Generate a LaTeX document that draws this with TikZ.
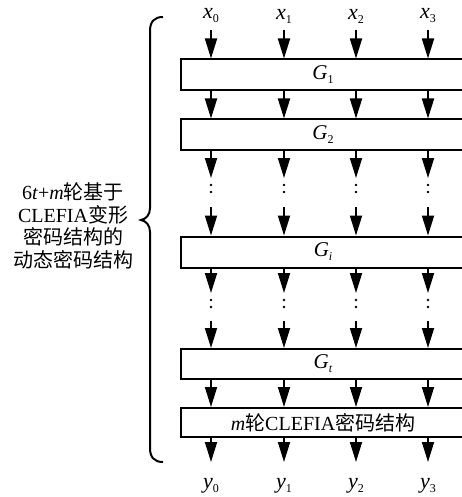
\documentclass[tikz,border=0pt]{standalone}
\usepackage{fontspec}
\setmainfont{Liberation Serif}
\newfontfamily\cjk{Noto Sans CJK SC}
\usetikzlibrary{arrows.meta}
\newcommand{\zh}[1]{{\cjk #1}}
\newcommand{\sbx}[1]{\raisebox{-4pt}{\fontsize{12}{12}\selectfont #1}}
\begin{document}
\begin{tikzpicture}[x=1pt,y=-1pt,
  blk/.style={draw, line width=2pt, minimum width=284pt, minimum height=31pt, inner sep=0pt, font=\fontsize{21}{22}\selectfont},
  arr/.style={line width=1.8pt, -{Triangle[length=20pt,width=12pt]}},
  dotsty/.style={line width=2.6pt, line cap=round, dash pattern=on 0pt off 7pt},
  lbl/.style={font=\fontsize{22}{24}\selectfont, inner sep=1pt},
  brace/.style={line width=2pt},
  side/.style={align=center, font=\fontsize{20}{22.5}\selectfont}
]
\useasboundingbox (0,0) rectangle (461,497);
% blocks
\node[blk] (G1) at (323,75) {\textit{G}\sbx{1}};
\node[blk] (G2) at (323,135) {\textit{G}\sbx{2}};
\node[blk] (Gi) at (323,252) {\textit{G}\sbx{\textit{i}}};
\node[blk,minimum height=30pt] (Gt) at (323,364) {\textit{G}\sbx{\textit{t}}};
\node[blk,minimum height=29pt,font=\fontsize{20}{22}\selectfont] (M) at (323,422.5) {\textit{m}\zh{轮}CLEFIA\zh{密码结构}};
% columns
\foreach \i/\x in {0/211,1/284,2/356,3/428} {
  \coordinate (c\i) at (\x,0);
  \node[lbl] (x\i) at (\x,16) {\textit{x}\sbx{\i}};
  \node[lbl] (y\i) at (\x,486) {\textit{y}\sbx{\i}};
  \coordinate (t\i) at (\x,30);
  \coordinate (a\i) at (\x,178);
  \coordinate (p\i) at (\x,185);
  \coordinate (q\i) at (\x,199);
  \coordinate (b\i) at (\x,207);
  \coordinate (d\i) at (\x,293);
  \coordinate (r\i) at (\x,300);
  \coordinate (s\i) at (\x,314);
  \coordinate (f\i) at (\x,321);
  \coordinate (e\i) at (\x,462);
  \draw[arr] (t\i) -- (G1.north -| c\i);
  \draw[arr] (G1.south -| c\i) -- (G2.north -| c\i);
  \draw[arr] (G2.south -| c\i) -- (a\i);
  \draw[dotsty] (p\i) -- (q\i);
  \draw[arr] (b\i) -- (Gi.north -| c\i);
  \draw[arr] (Gi.south -| c\i) -- (d\i);
  \draw[dotsty] (r\i) -- (s\i);
  \draw[arr] (f\i) -- (Gt.north -| c\i);
  \draw[arr] (Gt.south -| c\i) -- (M.north -| c\i);
  \draw[arr] (M.south -| c\i) -- (e\i);
}
% brace
\draw[brace] (163,17) .. controls (154,17) and (150,22) .. (150,31) -- (150,208)
  .. controls (150,215) and (146,219) .. (141,220)
  .. controls (146,221) and (150,225) .. (150,232) -- (150,448)
  .. controls (150,457) and (154,462) .. (163,462);
\node[side] (lab) at (73,226) {6\textit{t}+\textit{m}\zh{轮基于}\\CLEFIA\zh{变形}\\\zh{密码结构的}\\\zh{动态密码结构}};
\end{tikzpicture}
\end{document}
